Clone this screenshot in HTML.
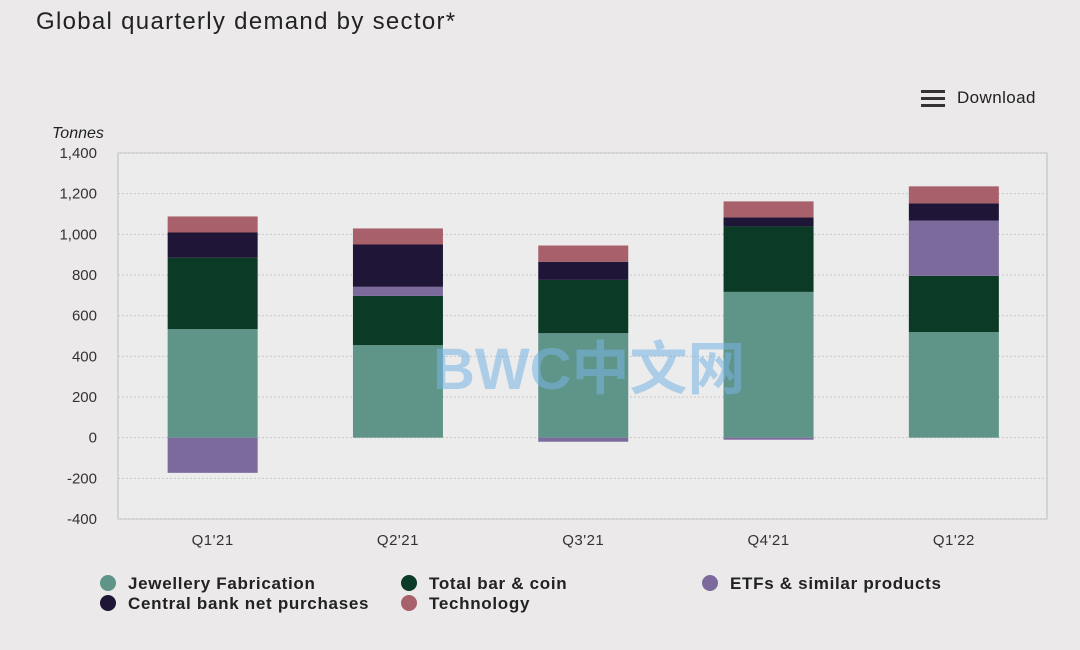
<!DOCTYPE html>
<html><head><meta charset="utf-8">
<style>
body{margin:0;width:1080px;height:650px;background:#ebe9ea;font-family:"Liberation Sans","Noto Sans CJK SC",sans-serif;overflow:hidden;position:relative}
.t{position:absolute}
</style></head><body>
<div class="t" style="left:36px;top:8px;font-size:24px;color:#222;letter-spacing:1.3px">Global quarterly demand by sector*</div>
<div class="t" style="left:921px;top:88px;font-size:17px;color:#222;display:flex;align-items:center;gap:12px;letter-spacing:0.4px">
<svg width="24" height="20"><rect x="0" y="2" width="24" height="3" fill="#333"/><rect x="0" y="9" width="24" height="3" fill="#333"/><rect x="0" y="16" width="24" height="3" fill="#333"/></svg>Download</div>
<svg id="c" width="1080" height="650" style="position:absolute;left:0;top:0"></svg>
<div class="t" style="left:433px;top:322px;font-size:58px;font-weight:bold;color:rgba(120,180,230,0.55)">BWC中文网</div>
<script>
const categories=["Q1'21","Q2'21","Q3'21","Q4'21","Q1'22"];
const jewellery=[534,455,514,717,519];
const barCoin=[351,242,262,322,277];
const etfs=[-173,45,-20,-10,272];
const centralBank=[124,208,89,44,84];
const technology=[79,79,80,79,84];
const yTicks=[1400,1200,1000,800,600,400,200,0,-200,-400];
const names=["Jewellery Fabrication","Total bar & coin","ETFs & similar products","Central bank net purchases","Technology"];
const colors=["#5f9488","#0b3a26","#7c6a9c","#1f1536","#a8606b"];
const ns="http://www.w3.org/2000/svg",svg=document.getElementById('c');
const L=118,R=1047,T=153,B=519,ymin=-400,ymax=1400;
const y=v=>B-(v-ymin)/(ymax-ymin)*(B-T);
const band=185.3,bw=90;
const x=i=>L+2+band*(i+0.5);
function mk(t,a){const e=document.createElementNS(ns,t);for(const k in a)e.setAttribute(k,a[k]);svg.appendChild(e);return e;}
const pa=mk('rect',{x:L,y:T,width:R-L,height:B-T,fill:'#ececec',stroke:'#bbb'});

yTicks.forEach(v=>{
 const g=mk('line',{x1:L,x2:R,y1:y(v),y2:y(v),stroke:'#c8c8c8','stroke-dasharray':'2,2'});
 
 const t=mk('text',{x:97,y:y(v)+5,'text-anchor':'end','font-size':15,fill:'#333'});t.textContent=v.toLocaleString('en-US');
 
});
const yt=mk('text',{x:52,y:138,'font-size':16,'font-style':'italic',fill:'#222'});yt.textContent='Tonnes';

const series=[jewellery,barCoin,etfs,centralBank,technology];
categories.forEach((c,i)=>{
 let pos=0,neg=0;
 series.forEach((s,k)=>{
  const v=s[i];let a,b;
  if(v>=0){a=pos;b=pos+v;pos=b;}else{a=neg+v;b=neg;neg=a;}
  const r=mk('rect',{x:x(i)-bw/2,y:y(b),width:bw,height:y(a)-y(b),fill:colors[k]});
  
 });
 const t=mk('text',{x:x(i),y:545,'text-anchor':'middle','font-size':15,fill:'#333','letter-spacing':0.5});t.textContent=c;
 
});
const lp=[[108,583],[409,583],[710,583],[108,603],[409,603]];
names.forEach((n,k)=>{
 const c=mk('circle',{cx:lp[k][0],cy:lp[k][1],r:8,fill:colors[k]});
 
 const t=mk('text',{x:lp[k][0]+20,y:lp[k][1]+6,'font-size':17,'font-weight':'bold',fill:'#222','letter-spacing':0.7});t.textContent=n;
 
});
</script>
</body></html>
